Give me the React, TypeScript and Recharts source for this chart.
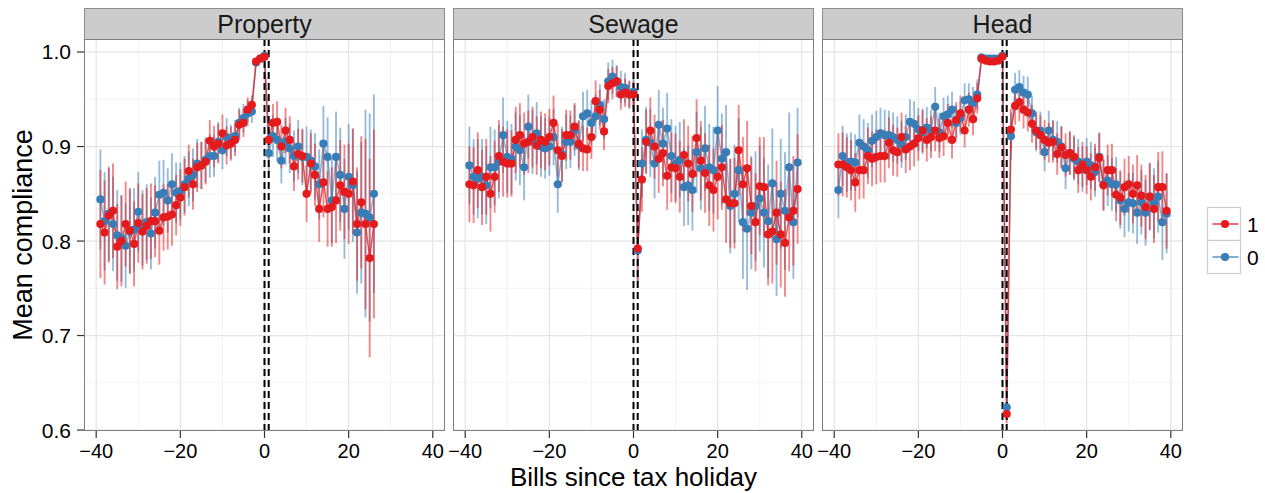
import React from 'react';
import { ComposedChart, Line, XAxis, YAxis, CartesianGrid, ReferenceLine, ErrorBar } from 'recharts';

const RED = '#E41A1C';
const BLUE = '#377EB8';
const RED_BAR = 'rgba(228,26,28,0.52)';
const BLUE_BAR = 'rgba(55,126,184,0.52)';
const RED_PATH = 'rgba(228,26,28,0.75)';
const BLUE_PATH = 'rgba(55,126,184,0.6)';
const FONT = '"Liberation Sans", Arial, Helvetica, sans-serif';

// axis ticks and gridlines
const X_TICKS = [-40, -20, 0, 20, 40];
const X_MINOR = [-30, -10, 10, 30];
const Y_TICKS = [0.6, 0.7, 0.8, 0.9, 1.0];
const Y_MINOR = [0.65, 0.75, 0.85, 0.95];
const X_DOMAIN: [number, number] = [-42.9, 42.9];
const Y_DOMAIN: [number, number] = [0.599, 1.0138];
const HOLIDAY_MARKS = [0, 1];
const GROUPS = ['1', '0'];
const GROUP_COLORS = [RED, BLUE];
const FACETS = ['Property', 'Sewage', 'Head'];

// bills since the tax holiday
const PROPERTY_X = [-39, -38, -37, -36, -35, -34, -33, -32, -31, -30, -29, -28, -27, -26, -25, -24, -23, -22, -21, -20,
  -19, -18, -17, -16, -15, -14, -13, -12, -11, -10, -9, -8, -7, -6, -5, -4, -3, -2, -1, 0,
  1, 2, 3, 4, 5, 6, 7, 8, 9, 10, 11, 12, 13, 14, 15, 16, 17, 18, 19, 20, 21, 22, 23, 24, 25, 26];
const BILLS_X = [-39, -38, -37, -36, -35, -34, -33, -32, -31, -30, -29, -28, -27, -26, -25, -24, -23, -22, -21, -20,
  -19, -18, -17, -16, -15, -14, -13, -12, -11, -10, -9, -8, -7, -6, -5, -4, -3, -2, -1, 0,
  1, 2, 3, 4, 5, 6, 7, 8, 9, 10, 11, 12, 13, 14, 15, 16, 17, 18, 19, 20,
  21, 22, 23, 24, 25, 26, 27, 28, 29, 30, 31, 32, 33, 34, 35, 36, 37, 38, 39];

// Property tax
const PROPERTY_RED = [0.818, 0.809, 0.827, 0.832, 0.794, 0.800, 0.818, 0.811, 0.797, 0.819,
  0.810, 0.816, 0.821, 0.821, 0.811, 0.825, 0.826, 0.828, 0.838, 0.846,
  0.857, 0.874, 0.860, 0.878, 0.880, 0.884, 0.906, 0.900, 0.903, 0.914,
  0.901, 0.903, 0.907, 0.923, 0.925, 0.939, 0.944, 0.990, 0.993, 0.995,
  0.907, 0.925, 0.926, 0.900, 0.917, 0.907, 0.879, 0.892, 0.890, 0.850,
  0.882, 0.870, 0.834, 0.862, 0.834, 0.836, 0.843, 0.859, 0.852, 0.850,
  0.863, 0.818, 0.841, 0.818, 0.782, 0.818];
const PROPERTY_BLUE = [0.844, 0.821, 0.829, 0.818, 0.806, 0.803, 0.795, 0.810, 0.812, 0.831,
  0.814, 0.820, 0.808, 0.830, 0.849, 0.851, 0.843, 0.860, 0.851, 0.853,
  0.860, 0.866, 0.870, 0.882, 0.880, 0.886, 0.890, 0.890, 0.905, 0.896,
  0.910, 0.905, 0.911, 0.925, 0.930, 0.935, 0.937, 0.989, 0.993, 0.996,
  0.893, 0.911, 0.907, 0.885, 0.905, 0.898, 0.890, 0.900, 0.889, 0.889,
  0.885, 0.879, 0.860, 0.903, 0.889, 0.843, 0.889, 0.870, 0.834, 0.868,
  0.859, 0.809, 0.830, 0.829, 0.825, 0.850];
const PROPERTY_RED_ERR = [0.057, 0.055, 0.05, 0.05, 0.045, 0.048, 0.045, 0.045, 0.045, 0.042,
  0.04, 0.04, 0.04, 0.038, 0.036, 0.035, 0.035, 0.033, 0.032, 0.03,
  0.03, 0.028, 0.027, 0.026, 0.025, 0.024, 0.022, 0.022, 0.021, 0.02,
  0.02, 0.018, 0.017, 0.016, 0.015, 0.013, 0.01, 0.004, 0.003, 0.003,
  0.02, 0.02, 0.022, 0.023, 0.024, 0.025, 0.026, 0.027, 0.028, 0.03,
  0.032, 0.033, 0.035, 0.037, 0.04, 0.042, 0.045, 0.048, 0.05, 0.053,
  0.056, 0.06, 0.07, 0.09, 0.105, 0.1];
const PROPERTY_BLUE_ERR = [0.053, 0.052, 0.05, 0.05, 0.048, 0.046, 0.045, 0.045, 0.044, 0.042,
  0.04, 0.04, 0.038, 0.038, 0.036, 0.035, 0.034, 0.033, 0.032, 0.03,
  0.03, 0.029, 0.028, 0.026, 0.025, 0.024, 0.023, 0.022, 0.021, 0.02,
  0.02, 0.018, 0.017, 0.016, 0.015, 0.014, 0.012, 0.004, 0.003, 0.003,
  0.022, 0.022, 0.023, 0.024, 0.025, 0.026, 0.027, 0.028, 0.03, 0.032,
  0.033, 0.035, 0.037, 0.04, 0.042, 0.045, 0.048, 0.05, 0.053, 0.056,
  0.06, 0.065, 0.075, 0.11, 0.11, 0.105];

// Sewage charge
const SEWAGE_RED = [0.860, 0.859, 0.875, 0.857, 0.868, 0.850, 0.868, 0.890, 0.884, 0.882,
  0.882, 0.907, 0.912, 0.903, 0.905, 0.910, 0.901, 0.907, 0.905, 0.910,
  0.925, 0.896, 0.890, 0.912, 0.912, 0.921, 0.903, 0.898, 0.897, 0.910,
  0.948, 0.939, 0.916, 0.964, 0.967, 0.969, 0.955, 0.957, 0.955, 0.955,
  0.792, 0.865, 0.905, 0.917, 0.900, 0.887, 0.893, 0.869, 0.878, 0.877,
  0.868, 0.891, 0.882, 0.871, 0.909, 0.885, 0.872, 0.859, 0.854, 0.868,
  0.878, 0.844, 0.840, 0.840, 0.896, 0.860, 0.877, 0.837, 0.820, 0.858,
  0.857, 0.807, 0.810, 0.830, 0.807, 0.798, 0.825, 0.832, 0.855];
const SEWAGE_BLUE = [0.880, 0.868, 0.866, 0.868, 0.859, 0.878, 0.878, 0.884, 0.912, 0.889,
  0.887, 0.900, 0.896, 0.878, 0.921, 0.905, 0.914, 0.900, 0.898, 0.900,
  0.910, 0.860, 0.892, 0.905, 0.905, 0.917, 0.901, 0.932, 0.935, 0.925,
  0.932, 0.944, 0.929, 0.969, 0.974, 0.969, 0.963, 0.962, 0.955, 0.958,
  0.790, 0.882, 0.907, 0.904, 0.882, 0.923, 0.903, 0.919, 0.890, 0.882,
  0.886, 0.857, 0.859, 0.854, 0.894, 0.877, 0.898, 0.878, 0.875, 0.917,
  0.887, 0.894, 0.837, 0.850, 0.875, 0.820, 0.813, 0.830, 0.837, 0.845,
  0.830, 0.821, 0.861, 0.802, 0.850, 0.832, 0.878, 0.820, 0.883];
const SEWAGE_RED_ERR = [0.04, 0.04, 0.04, 0.04, 0.04, 0.04, 0.038, 0.038, 0.037, 0.036,
  0.035, 0.035, 0.034, 0.033, 0.033, 0.032, 0.031, 0.03, 0.03, 0.03,
  0.029, 0.028, 0.028, 0.027, 0.026, 0.025, 0.025, 0.024, 0.023, 0.023,
  0.022, 0.021, 0.02, 0.018, 0.017, 0.016, 0.016, 0.015, 0.014, 0.014,
  0.035, 0.034, 0.034, 0.035, 0.034, 0.036, 0.035, 0.036, 0.037, 0.037,
  0.038, 0.038, 0.04, 0.04, 0.041, 0.042, 0.042, 0.043, 0.044, 0.045,
  0.045, 0.046, 0.047, 0.048, 0.048, 0.05, 0.05, 0.051, 0.052, 0.052,
  0.053, 0.054, 0.055, 0.055, 0.056, 0.057, 0.057, 0.058, 0.058];
const SEWAGE_BLUE_ERR = [0.041, 0.04, 0.042, 0.04, 0.041, 0.043, 0.04, 0.039, 0.04, 0.038,
  0.037, 0.036, 0.037, 0.035, 0.034, 0.034, 0.033, 0.032, 0.032, 0.031,
  0.03, 0.03, 0.029, 0.029, 0.028, 0.027, 0.026, 0.026, 0.025, 0.024,
  0.023, 0.022, 0.021, 0.02, 0.018, 0.017, 0.017, 0.016, 0.015, 0.015,
  0.036, 0.036, 0.035, 0.036, 0.037, 0.037, 0.038, 0.038, 0.039, 0.04,
  0.04, 0.041, 0.042, 0.043, 0.043, 0.044, 0.045, 0.046, 0.046, 0.047,
  0.048, 0.05, 0.05, 0.052, 0.055, 0.06, 0.065, 0.06, 0.058, 0.056,
  0.058, 0.06, 0.058, 0.06, 0.058, 0.062, 0.058, 0.06, 0.058];

// Head tax
const HEAD_RED = [0.881, 0.881, 0.878, 0.875, 0.862, 0.875, 0.875, 0.890, 0.887, 0.889,
  0.890, 0.890, 0.904, 0.896, 0.894, 0.910, 0.897, 0.900, 0.903, 0.909,
  0.917, 0.907, 0.910, 0.917, 0.909, 0.911, 0.925, 0.907, 0.928, 0.935,
  0.917, 0.939, 0.929, 0.951, 0.993, 0.991, 0.990, 0.990, 0.991, 0.995,
  0.617, 0.918, 0.943, 0.947, 0.939, 0.936, 0.924, 0.917, 0.912, 0.907,
  0.904, 0.905, 0.892, 0.899, 0.891, 0.893, 0.889, 0.875, 0.881, 0.875,
  0.868, 0.878, 0.888, 0.859, 0.875, 0.875, 0.849, 0.846, 0.857, 0.860,
  0.850, 0.859, 0.848, 0.836, 0.847, 0.834, 0.857, 0.857, 0.832];
const HEAD_BLUE = [0.854, 0.890, 0.883, 0.884, 0.883, 0.904, 0.900, 0.896, 0.906, 0.910,
  0.914, 0.912, 0.912, 0.910, 0.907, 0.902, 0.910, 0.926, 0.924, 0.918,
  0.915, 0.920, 0.917, 0.942, 0.915, 0.932, 0.934, 0.939, 0.925, 0.930,
  0.949, 0.950, 0.946, 0.955, 0.994, 0.993, 0.993, 0.993, 0.993, 0.996,
  0.624, 0.911, 0.960, 0.963, 0.957, 0.955, 0.935, 0.915, 0.917, 0.894,
  0.917, 0.907, 0.905, 0.900, 0.877, 0.893, 0.887, 0.884, 0.876, 0.884,
  0.880, 0.873, 0.889, 0.860, 0.864, 0.860, 0.860, 0.843, 0.834, 0.841,
  0.840, 0.830, 0.841, 0.830, 0.847, 0.840, 0.847, 0.820, 0.829];
const HEAD_RED_ERR = [0.033, 0.034, 0.032, 0.032, 0.031, 0.031, 0.03, 0.03, 0.029, 0.029,
  0.028, 0.028, 0.027, 0.027, 0.026, 0.026, 0.025, 0.025, 0.024, 0.024,
  0.023, 0.023, 0.022, 0.022, 0.021, 0.021, 0.02, 0.02, 0.019, 0.019,
  0.018, 0.018, 0.017, 0.016, 0.005, 0.004, 0.004, 0.004, 0.004, 0.003,
  0.01, 0.022, 0.02, 0.02, 0.02, 0.02, 0.02, 0.02, 0.021, 0.021,
  0.021, 0.022, 0.022, 0.022, 0.023, 0.023, 0.023, 0.024, 0.024, 0.025,
  0.025, 0.025, 0.026, 0.027, 0.027, 0.028, 0.028, 0.029, 0.03, 0.03,
  0.031, 0.032, 0.033, 0.034, 0.035, 0.036, 0.037, 0.038, 0.04];
const HEAD_BLUE_ERR = [0.03, 0.032, 0.031, 0.031, 0.03, 0.03, 0.029, 0.029, 0.028, 0.028,
  0.027, 0.027, 0.026, 0.026, 0.025, 0.025, 0.024, 0.024, 0.024, 0.023,
  0.023, 0.022, 0.022, 0.021, 0.021, 0.02, 0.02, 0.019, 0.019, 0.018,
  0.018, 0.017, 0.017, 0.016, 0.005, 0.004, 0.004, 0.004, 0.004, 0.003,
  0.01, 0.025, 0.018, 0.018, 0.018, 0.019, 0.019, 0.02, 0.02, 0.02,
  0.021, 0.021, 0.022, 0.022, 0.022, 0.023, 0.023, 0.024, 0.024, 0.025,
  0.025, 0.026, 0.026, 0.027, 0.027, 0.028, 0.029, 0.03, 0.03, 0.031,
  0.032, 0.033, 0.034, 0.035, 0.036, 0.037, 0.038, 0.04, 0.042];

type Row = { x: number; red: number; blue: number; redErr: number; blueErr: number };

function buildRows(xs: number[], red: number[], blue: number[], redErr: number[], blueErr: number[]): Row[] {
  return xs.map((x, i) => ({ x, red: red[i], blue: blue[i], redErr: redErr[i], blueErr: blueErr[i] }));
}

// layout of the facet grid
const PLOT_W = 361;
const PLOT_TOP = 39;
const PLOT_H = 392;
const CHART_H = 493;
const PAD = 30;
const Y_AXIS_W = 84;
const PANEL_LEFTS = [84, 453, 822];
const DOT_R = 4.1;

const PANELS = [
  { title: FACETS[0], left: PANEL_LEFTS[0], rows: buildRows(PROPERTY_X, PROPERTY_RED, PROPERTY_BLUE, PROPERTY_RED_ERR, PROPERTY_BLUE_ERR) },
  { title: FACETS[1], left: PANEL_LEFTS[1], rows: buildRows(BILLS_X, SEWAGE_RED, SEWAGE_BLUE, SEWAGE_RED_ERR, SEWAGE_BLUE_ERR) },
  { title: FACETS[2], left: PANEL_LEFTS[2], rows: buildRows(BILLS_X, HEAD_RED, HEAD_BLUE, HEAD_RED_ERR, HEAD_BLUE_ERR) },
];

const fmtX = (v: number) => (v < 0 ? `\u2212${Math.abs(v)}` : String(v));
const fmtY = (v: number) => v.toFixed(1);

const makeDot = (color: string, tag: string) => (props: any) => {
  const { cx, cy, index } = props;
  if (cx == null || cy == null || Number.isNaN(cy)) return <g key={`${tag}-${index}`} />;
  return <circle key={`${tag}-${index}`} cx={cx} cy={cy} r={DOT_R} fill={color} stroke="none" />;
};

const tickStyle = { fontSize: 20, fill: '#000', fontFamily: FONT };

function FacetPanel({ panel, first }: { panel: (typeof PANELS)[number]; first: boolean }) {
  const yW = first ? Y_AXIS_W : 0;
  const mL = first ? 0 : PAD;
  const chartLeft = panel.left - yW - mL;
  return (
    <div style={{ position: 'absolute', left: chartLeft, top: 0 }}>
      <ComposedChart
        width={yW + mL + PLOT_W + PAD}
        height={CHART_H}
        data={panel.rows}
        margin={{ top: PLOT_TOP, right: PAD, bottom: 0, left: mL }}
      >
        <CartesianGrid stroke="#F3F3F3" strokeWidth={1} horizontalValues={Y_MINOR} verticalValues={X_MINOR} />
        <CartesianGrid stroke="#E4E4E4" strokeWidth={1.2} horizontalValues={Y_TICKS} verticalValues={X_TICKS} />
        <XAxis
          type="number"
          dataKey="x"
          domain={X_DOMAIN}
          allowDataOverflow
          ticks={X_TICKS}
          interval={0}
          height={CHART_H - PLOT_TOP - PLOT_H}
          axisLine={false}
          tickLine={{ stroke: '#333', strokeWidth: 1.2 }}
          tickSize={7}
          tickMargin={6}
          tick={tickStyle}
          tickFormatter={fmtX}
        />
        <YAxis
          type="number"
          hide={!first}
          width={Y_AXIS_W}
          domain={Y_DOMAIN}
          allowDataOverflow
          ticks={Y_TICKS}
          interval={0}
          axisLine={false}
          tickLine={{ stroke: '#333', strokeWidth: 1.2 }}
          tickSize={7}
          tickMargin={6}
          tick={{ ...tickStyle, fontSize: 21 }}
          tickFormatter={fmtY}
        />
        {/* error bars */}
        <Line dataKey="blue" stroke="none" dot={false} activeDot={false} legendType="none" isAnimationActive={false}>
          <ErrorBar dataKey="blueErr" direction="y" width={0} stroke={BLUE_BAR} strokeWidth={1.9} />
        </Line>
        <Line dataKey="red" stroke="none" dot={false} activeDot={false} legendType="none" isAnimationActive={false}>
          <ErrorBar dataKey="redErr" direction="y" width={0} stroke={RED_BAR} strokeWidth={1.9} />
        </Line>
        {/* connecting lines */}
        <Line dataKey="blue" type="linear" stroke={BLUE_PATH} strokeWidth={1.5} dot={false} activeDot={false} isAnimationActive={false} />
        <Line dataKey="red" type="linear" stroke={RED_PATH} strokeWidth={1.5} dot={false} activeDot={false} isAnimationActive={false} />
        {/* points */}
        <Line dataKey="blue" stroke="none" dot={makeDot(BLUE, 'b')} activeDot={false} legendType="none" isAnimationActive={false} />
        <Line dataKey="red" stroke="none" dot={makeDot(RED, 'r')} activeDot={false} legendType="none" isAnimationActive={false} />
        {HOLIDAY_MARKS.map((v) => (
          <ReferenceLine key={v} x={v} stroke="#000" strokeWidth={2} strokeDasharray="7 4" />
        ))}
      </ComposedChart>
    </div>
  );
}

export default function App() {
  return (
    <div style={{ position: 'absolute', left: 0, top: 0, width: 1265, height: 493, background: '#fff', fontFamily: FONT }}>
      {PANELS.map((p, i) => (
        <FacetPanel key={p.title} panel={p} first={i === 0} />
      ))}
      {PANELS.map((p) => (
        <React.Fragment key={`frame-${p.title}`}>
          <div
            style={{
              position: 'absolute',
              left: p.left,
              top: 8,
              width: PLOT_W,
              height: PLOT_TOP - 8 + 1,
              background: '#CCCCCC',
              border: '1px solid #8C8C8C',
              boxSizing: 'border-box',
              display: 'flex',
              alignItems: 'center',
              justifyContent: 'center',
              fontSize: 25,
              lineHeight: 1,
              color: '#1a1a1a',
            }}
          >
            {p.title}
          </div>
          <div
            style={{
              position: 'absolute',
              left: p.left,
              top: PLOT_TOP,
              width: PLOT_W,
              height: PLOT_H,
              border: '1px solid #7F7F7F',
              boxSizing: 'border-box',
              pointerEvents: 'none',
            }}
          />
        </React.Fragment>
      ))}
      <svg width={1265} height={493} style={{ position: 'absolute', left: 0, top: 0, pointerEvents: 'none' }}>
        <text
          x={32}
          y={PLOT_TOP + PLOT_H / 2}
          transform={`rotate(-90 32 ${PLOT_TOP + PLOT_H / 2})`}
          textAnchor="middle"
          fontSize={27}
          fontFamily={FONT}
          fill="#000"
        >
          Mean compliance
        </text>
        <text x={PANEL_LEFTS[1] + PLOT_W / 2} y={486} textAnchor="middle" fontSize={26} fontFamily={FONT} fill="#000">
          Bills since tax holiday
        </text>
        {GROUPS.map((g, i) => {
          const top = 207.5 + i * 33;
          const cy = top + 16.5;
          return (
            <g key={g}>
              <rect x={1207.5} y={top} width={33} height={33} fill="#fff" stroke="#CCCCCC" strokeWidth={1.2} />
              <line x1={1212.5} x2={1238.5} y1={cy} y2={cy} stroke={GROUP_COLORS[i]} strokeOpacity={0.8} strokeWidth={1.6} />
              <circle cx={1225} cy={cy} r={DOT_R} fill={GROUP_COLORS[i]} />
              <text x={1247} y={cy} dy="0.36em" fontSize={21} fontFamily={FONT} fill="#000">
                {g}
              </text>
            </g>
          );
        })}
      </svg>
    </div>
  );
}
